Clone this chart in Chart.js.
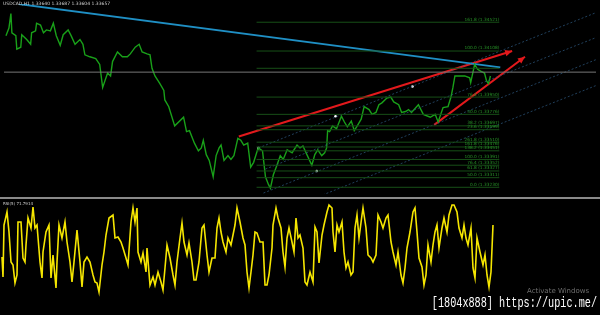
<!DOCTYPE html>
<html><head><meta charset="utf-8">
<script src="https://cdn.jsdelivr.net/npm/chart.js@4"></script>
<style>
html,body{margin:0;padding:0;background:#000;width:600px;height:315px;overflow:hidden;position:relative;font-family:"DejaVu Sans",sans-serif}
canvas{position:absolute;left:0}
#top{top:0}
#bot{top:199px}
#sep{position:absolute;left:0;top:197px;width:600px;height:2px;background:#8a8a8a}
#t1{position:absolute;left:3px;top:1px;font-size:4.5px;color:#d0d0d0;white-space:nowrap}
#t2{position:absolute;left:3px;top:201px;font-size:4px;color:#d0d0d0;white-space:nowrap}
#aw{position:absolute;left:527px;top:287px;font-size:7px;color:#6e6e6e;white-space:nowrap}
#wm{position:absolute;right:3px;top:295px;font-family:"Liberation Mono",monospace;font-size:15px;color:#fff;white-space:nowrap;transform:scaleX(0.68);transform-origin:right top;text-shadow:0 0 2px #000}
</style></head>
<body>
<canvas id="top" width="600" height="198"></canvas>
<canvas id="bot" width="600" height="116"></canvas>
<div id="sep"></div>
<div id="t1">USDCAD,H1 1.33640 1.33687 1.33604 1.33657</div>
<div id="t2">RSI(5) 71.7914</div>
<div id="aw">Activate Windows</div>
<div id="wm">[1804x888] https://upic.me/</div>
<script>
// price path (bar position, level; top-panel scale is reversed)
const priceSeries = [[2,33],[5,25],[7,10],[8,30],[12,33],[13,47],[17,45],[18,32],[23,37],[27,42],[28,30],[32,28],[33,20],[37,22],[40,30],[43,27],[47,28],[50,20],[53,33],[57,43],[60,32],[65,27],[68,33],[72,42],[77,37],[80,42],[82,53],[87,55],[93,57],[97,63],[100,87],[105,72],[108,75],[110,60],[115,50],[120,55],[125,55],[128,52],[133,45],[137,42],[140,50],[145,52],[148,53],[150,67],[153,75],[158,83],[162,90],[163,100],[167,107],[173,127],[182,118],[185,133],[188,132],[193,145],[197,153],[200,150],[202,142],[205,157],[208,163],[212,180],[215,158],[218,150],[220,147],[223,163],[227,158],[230,162],[233,158],[237,140],[240,142],[243,147],[247,145],[250,170],[253,165],[257,152],[258,150],[262,153],[265,180],[268,188],[270,192],[273,178],[277,167],[280,158],[283,162],[287,152],[292,155],[297,147],[300,150],[303,148],[307,157],[312,168],[315,157],[318,152],[322,158],[325,155],[327,150],[328,132],[330,133],[333,127],[337,130],[342,117],[345,123],[348,128],[352,122],[355,132],[358,127],[362,120],[365,107],[370,110],[373,115],[377,113],[380,105],[383,103],[388,98],[392,97],[395,102],[400,105],[403,113],[407,112],[410,110],[413,113],[420,105],[425,115],[432,118],[437,115],[440,123],[445,108],[450,107],[453,97],[455,87],[457,75],[462,75],[467,75],[472,77],[473,82],[477,63],[480,68],[483,70],[487,72],[489,80],[491,83],[493,75]];

// RSI(5) oscillator path (bottom panel, reversed scale 199..315)
const rsiSeries = [[2,257],[3,277],[4,225],[7,212],[9,232],[11,262],[13,265],[15,283],[17,275],[18,222],[21,222],[23,258],[25,262],[26,245],[28,218],[31,228],[33,207],[35,228],[37,225],[40,262],[42,278],[43,252],[46,232],[49,225],[51,278],[53,255],[56,288],[57,262],[59,225],[62,238],[65,222],[67,242],[70,262],[72,282],[74,262],[77,230],[80,262],[82,287],[84,262],[87,257],[90,262],[93,275],[95,282],[97,283],[99,292],[102,265],[104,252],[106,235],[109,218],[113,215],[115,238],[118,237],[121,242],[123,248],[126,258],[128,265],[131,222],[133,208],[135,222],[137,208],[138,252],[141,262],[143,253],[146,272],[147,248],[150,285],[153,277],[155,285],[158,272],[161,282],[163,290],[165,268],[167,245],[170,258],[173,275],[175,285],[177,262],[180,238],[182,223],[184,242],[187,255],[189,243],[192,262],[194,280],[196,280],[199,262],[202,228],[204,225],[207,255],[209,272],[212,258],[215,258],[217,228],[219,218],[221,232],[223,242],[226,252],[228,238],[231,245],[233,235],[235,225],[237,208],[240,222],[243,238],[245,245],[247,272],[249,288],[251,272],[253,255],[255,232],[257,233],[260,242],[263,242],[265,285],[267,285],[269,275],[272,248],[273,225],[276,208],[278,218],[281,228],[283,252],[285,267],[287,238],[289,228],[292,242],[294,252],[296,218],[298,238],[300,235],[303,248],[305,282],[307,285],[310,272],[313,282],[315,227],[317,232],[319,263],[322,235],[324,225],[327,212],[329,205],[332,208],[333,232],[335,252],[337,225],[339,232],[342,222],[344,252],[346,268],[348,262],[351,275],[353,272],[355,228],[357,215],[359,238],[362,215],[363,208],[366,228],[368,255],[371,258],[373,262],[376,255],[378,215],[381,222],[383,228],[386,218],[388,215],[391,242],[393,252],[396,265],[398,252],[401,275],[403,283],[405,268],[407,248],[410,232],[413,212],[415,208],[417,232],[419,258],[422,267],[424,285],[426,275],[428,245],[431,262],[433,245],[435,232],[437,225],[439,248],[442,228],[444,218],[447,232],[449,215],[452,205],[454,205],[457,212],[459,228],[462,238],[464,225],[466,238],[468,245],[471,228],[473,268],[475,278],[477,238],[480,252],[483,265],[485,255],[487,275],[489,287],[491,272],[493,225]];

// fibonacci levels
const fibLevels = [19,49,67,97,115,127,131,144,149,153,162,168,174,181,191];
const fibLabels = ['161.8 (1.34521)','100.0 (1.34108)','','76.4 (1.33950)','50.0 (1.33776)','38.2 (1.33697)','23.6 (1.33599)','261.8 (1.33510)','161.8 (1.33476)','138.2 (1.33451)','100.0 (1.33391)','76.4 (1.33352)','61.8 (1.33327)','50.0 (1.33311)','0.0 (1.33230)'];
const fibRange = [256, 502];

// trend lines (start, end)
const blueTrend = [[15,0],[503,66]];
const redArrows = [[[238,138],[515,49]], [[436,126],[528,55]]];
const channelLines = [[[258,150],[600,9]], [[265,172],[600,35]], [[263,197],[600,58]], [[323,199],[600,85]]];
const hLine = 71;
const pivots = [[258,150],[336,117],[317,174],[414,86]];

const toPts = a => a.map(p => ({x:p[0], y:p[1]}));
const lineDs = (pts, color, w, extra) => Object.assign({type:'line', data:toPts(pts), borderColor:color, borderWidth:w, pointRadius:0, fill:false, tension:0}, extra||{});

const topSets = [];
fibLevels.forEach(lv => topSets.push(lineDs([[fibRange[0],lv],[fibRange[1],lv]], '#174f17', 1)));
topSets.push(lineDs([[0,hLine],[600,hLine]], '#777777', 1));
channelLines.forEach(l => topSets.push(lineDs(l, 'rgba(45,90,130,0.7)', 1, {borderDash:[2,2]})));
topSets.push(lineDs(priceSeries, '#19a019', 1.4));
topSets.push(lineDs(blueTrend, '#1f8fc4', 1.8));
redArrows.forEach(l => topSets.push(lineDs(l, '#e3191c', 2, {arrow:true})));
topSets.push({type:'scatter', data:toPts(pivots), pointRadius:1.3, pointBackgroundColor:'#ffffff', pointBorderWidth:0});

const overlay = {
  id:'overlay',
  afterDatasetsDraw(chart){
    const ctx = chart.ctx, xs = chart.scales.x, ys = chart.scales.y;
    ctx.save();
    chart.data.datasets.forEach(ds => {
      if(!ds.arrow) return;
      const a = ds.data[0], b = ds.data[1];
      const x1 = xs.getPixelForValue(a.x), y1 = ys.getPixelForValue(a.y);
      const x2 = xs.getPixelForValue(b.x), y2 = ys.getPixelForValue(b.y);
      const ang = Math.atan2(y2-y1, x2-x1), L = 7, W = 3.2;
      ctx.fillStyle = ds.borderColor;
      ctx.beginPath();
      ctx.moveTo(x2, y2);
      ctx.lineTo(x2 - L*Math.cos(ang) + W*Math.sin(ang), y2 - L*Math.sin(ang) - W*Math.cos(ang));
      ctx.lineTo(x2 - L*Math.cos(ang) - W*Math.sin(ang), y2 - L*Math.sin(ang) + W*Math.cos(ang));
      ctx.closePath();
      ctx.fill();
    });
    ctx.font = '4.3px "DejaVu Sans"';
    ctx.fillStyle = '#279427';
    ctx.textAlign = 'right';
    ctx.textBaseline = 'bottom';
    fibLevels.forEach((lv,i) => {
      if(!fibLabels[i]) return;
      ctx.fillText(fibLabels[i], xs.getPixelForValue(fibRange[1]), ys.getPixelForValue(lv) - 0.5);
    });
    ctx.restore();
  }
};

const baseOpts = (ymin, ymax) => ({
  responsive:false, animation:false, devicePixelRatio:1,
  layout:{padding:0},
  plugins:{legend:{display:false}, tooltip:{enabled:false}},
  scales:{
    x:{type:'linear', min:0, max:600, display:false},
    y:{type:'linear', min:ymin, max:ymax, reverse:true, display:false}
  }
});

new Chart(document.getElementById('top'), {
  type:'line', data:{datasets:topSets}, options:baseOpts(0,198), plugins:[overlay]
});
new Chart(document.getElementById('bot'), {
  type:'line',
  data:{datasets:[lineDs(rsiSeries, '#f5e600', 1.6)]},
  options:baseOpts(199,315)
});
</script>
</body></html>
